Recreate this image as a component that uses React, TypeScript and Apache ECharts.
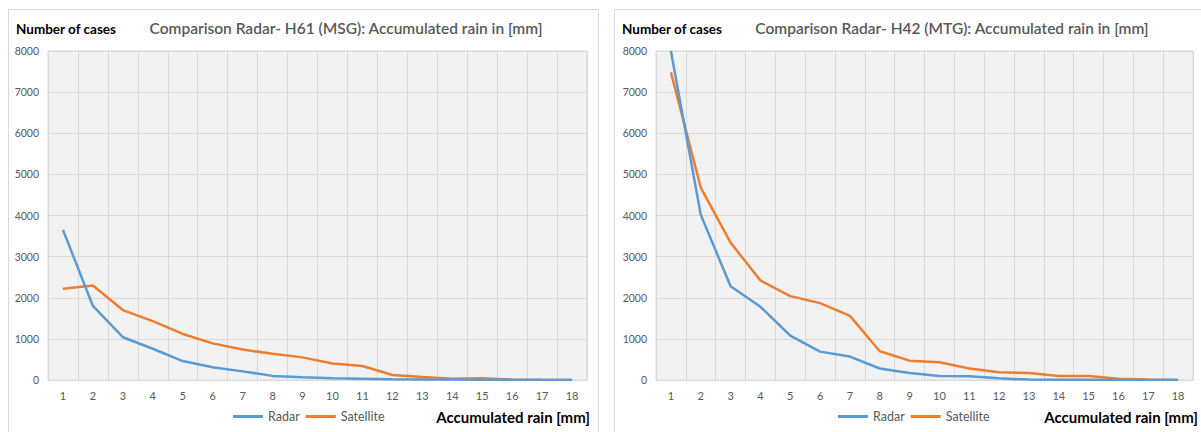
import React, { useEffect, useRef } from "react";
import * as echarts from "echarts";

const categories = ["1", "2", "3", "4", "5", "6", "7", "8", "9", "10", "11", "12", "13", "14", "15", "16", "17", "18"];
const radarH61 = [3650, 1800, 1040, 760, 460, 310, 210, 100, 65, 40, 30, 20, 15, 10, 5, 3, 2, 1];
const satelliteH61 = [2220, 2300, 1700, 1430, 1120, 890, 740, 640, 550, 400, 340, 120, 70, 30, 40, 10, 5, 2];
const radarH42 = [8000, 4020, 2280, 1780, 1080, 690, 570, 280, 170, 100, 90, 40, 10, 5, 5, 3, 2, 1];
const satelliteH42 = [7480, 4680, 3340, 2420, 2040, 1870, 1560, 700, 470, 430, 280, 190, 170, 100, 100, 30, 10, 2];
const panelTitles = [
  "Comparison Radar- H61 (MSG): Accumulated rain in [mm]",
  "Comparison Radar- H42 (MTG): Accumulated rain in [mm]",
];
const yAxisName = "Number of cases";
const xAxisName = "Accumulated rain [mm]";
const seriesNames = ["Radar", "Satellite"];

const FONT = "Lato, 'Open Sans', sans-serif";
const BLUE = "#5B9BD5";
const ORANGE = "#ED7D31";
const GREY = "#595959";
const GRID = "#d9d9d9";

export default function App() {
  const ref = useRef<HTMLDivElement>(null);
  useEffect(() => {
    if (!ref.current) return;
    const chart = echarts.init(ref.current, undefined, { renderer: "svg" });
    const grids = [
      { left: 48, top: 51, width: 539, height: 329 },
      { left: 656, top: 51, width: 537, height: 329 },
    ];
    const panelX = [8.5, 614.5];
    const titleCX = [346, 952];
    const legendLeft = [233, 838];
    const xNameRight = [590, 1198];
    const data = [
      [radarH61, satelliteH61],
      [radarH42, satelliteH42],
    ];

    const graphic: any[] = [];
    panelX.forEach((px, i) => {
      graphic.push({
        type: "rect",
        shape: { x: px, y: 9.5, width: i === 0 ? 590 : 700, height: 500 },
        style: { fill: "#ffffff", stroke: GRID, lineWidth: 1 },
        z: -10,
        silent: true,
      });
      graphic.push({
        type: "text",
        x: titleCX[i],
        y: 28,
        style: {
          text: panelTitles[i],
          fill: GREY,
          font: `600 15.5px ${FONT}`,
          textAlign: "center",
          textVerticalAlign: "middle",
        },
      });
      graphic.push({
        type: "text",
        x: px + 7.5,
        y: 29,
        style: {
          text: yAxisName,
          fill: "#000000",
          font: `bold 13.5px ${FONT}`,
          textAlign: "left",
          textVerticalAlign: "middle",
        },
      });
      graphic.push({
        type: "text",
        x: xNameRight[i],
        y: 417,
        style: {
          text: xAxisName,
          fill: "#000000",
          font: `bold 15px ${FONT}`,
          textAlign: "right",
          textVerticalAlign: "middle",
        },
      });
    });

    const option: any = {
      animation: false,
      backgroundColor: "#ffffff",
      textStyle: { fontFamily: FONT },
      grid: grids.map((g) => ({
        ...g,
        show: true,
        backgroundColor: "#f2f2f2",
        borderColor: GRID,
        borderWidth: 1,
        containLabel: false,
      })),
      legend: [0, 1].map((i) => ({
        left: legendLeft[i],
        top: 410,
        padding: 0,
        data: seriesNames,
        icon: "rect",
        itemWidth: 30,
        itemHeight: 3,
        itemGap: 6,
        textStyle: { color: GREY, fontSize: 12.5, fontFamily: FONT },
        selectedMode: false,
      })),
      xAxis: [0, 1].map((i) => ({
        type: "category",
        gridIndex: i,
        data: categories,
        boundaryGap: true,
        axisTick: { show: false },
        axisLine: { show: true, lineStyle: { color: GRID, width: 1 } },
        axisLabel: { color: GREY, fontSize: 11, margin: 10, fontFamily: FONT, interval: 0 },
        splitLine: { show: true, interval: 0, lineStyle: { color: GRID, width: 1 } },
      })),
      yAxis: [0, 1].map((i) => ({
        type: "value",
        gridIndex: i,
        min: 0,
        max: 8000,
        interval: 1000,
        axisLine: { show: false },
        axisTick: { show: false },
        axisLabel: {
          color: GREY,
          fontSize: 10.5,
          margin: 9,
          fontFamily: FONT,
          formatter: (v: number) => String(v),
        },
        splitLine: { show: true, lineStyle: { color: GRID, width: 1 } },
      })),
      series: [0, 1].flatMap((i) => [
        {
          name: seriesNames[0],
          type: "line",
          xAxisIndex: i,
          yAxisIndex: i,
          data: data[i][0],
          symbol: "none",
          color: BLUE,
          lineStyle: { color: BLUE, width: 2.5 },
          z: 3,
        },
        {
          name: seriesNames[1],
          type: "line",
          xAxisIndex: i,
          yAxisIndex: i,
          data: data[i][1],
          symbol: "none",
          color: ORANGE,
          lineStyle: { color: ORANGE, width: 2.5 },
          z: 2,
        },
      ]),
      graphic,
    };
    chart.setOption(option);
    return () => chart.dispose();
  }, []);
  return (
    <div
      ref={ref}
      style={{ position: "fixed", left: 0, top: 0, width: 1201, height: 432 }}
    />
  );
}
